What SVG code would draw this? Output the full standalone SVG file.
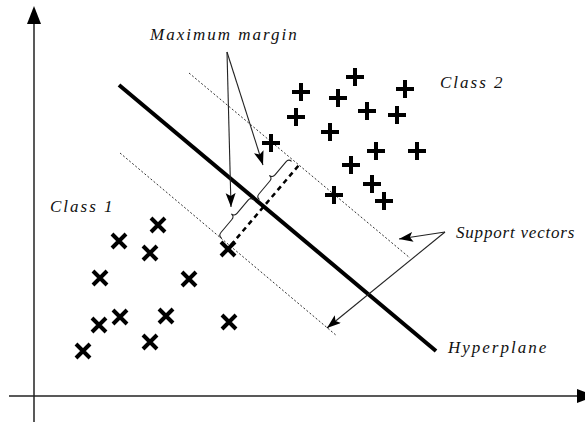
<svg xmlns="http://www.w3.org/2000/svg" width="585" height="424" viewBox="0 0 585 424">
<style>
.lbl{font-family:"Liberation Serif","Times New Roman",serif;font-style:italic;font-size:17px;letter-spacing:2px;fill:#111}
.axis{stroke:#222;stroke-width:1.5;fill:none}
.thin{stroke:#222;stroke-width:1.1;fill:none}
.dot{stroke:#333;stroke-width:1;stroke-dasharray:2,2;fill:none}
.mark{stroke:#000;stroke-width:4;fill:none}
</style>
<defs>
<marker id="ah" markerUnits="userSpaceOnUse" markerWidth="16" markerHeight="12" refX="14" refY="5" orient="auto">
<path d="M0,0 L14,5 L0,10 L3,5 Z" fill="#000"/>
</marker>
<g id="plus"><path class="mark" d="M-9,0H9M0,-9V9"/></g>
<g id="cross"><path class="mark" d="M-7,-7L7,7M-7,7L7,-7"/></g>
</defs>
<rect width="585" height="424" fill="#fff"/>
<g id="axes">
<line class="axis" x1="34" y1="22" x2="34" y2="422"/>
<polygon points="34,6 41,24 27,24" fill="#000"/>
<line class="axis" x1="9" y1="396" x2="580" y2="396"/>
<polygon points="595,396 577,389 577,403" fill="#000"/>
</g>
<g id="margins">
<line class="dot" x1="189" y1="73" x2="410" y2="258"/>
<line class="dot" x1="120" y1="153" x2="337" y2="336"/>
</g>
<g id="hyperplane">
<line x1="119" y1="85" x2="436" y2="351" stroke="#000" stroke-width="4"/>
</g>
<g id="margin-width">
<line x1="231" y1="245" x2="299" y2="165" stroke="#000" stroke-width="2.5" stroke-dasharray="5,4"/>
<path class="thin" transform="translate(237.5,219) rotate(-50)" d="M-25,0 Q-25,-4 -21,-4 L-4,-4 Q0,-4 0,-8 Q0,-4 4,-4 L21,-4 Q25,-4 25,0"/>
<path class="thin" transform="translate(275.5,180.5) rotate(-50)" d="M-25,0 Q-25,-4 -21,-4 L-4,-4 Q0,-4 0,-8 Q0,-4 4,-4 L21,-4 Q25,-4 25,0"/>
</g>
<g id="connectors">
<line class="thin" x1="227" y1="52" x2="231" y2="207" marker-end="url(#ah)"/>
<line class="thin" x1="227" y1="52" x2="263" y2="165" marker-end="url(#ah)"/>
<line class="thin" x1="445" y1="232" x2="399" y2="239" marker-end="url(#ah)"/>
<line class="thin" x1="445" y1="232" x2="327" y2="328" marker-end="url(#ah)"/>
</g>
<g id="class2-points">
<use href="#plus" x="355" y="77"/>
<use href="#plus" x="301" y="92"/>
<use href="#plus" x="338" y="98"/>
<use href="#plus" x="405" y="89"/>
<use href="#plus" x="296" y="117"/>
<use href="#plus" x="367" y="111"/>
<use href="#plus" x="397" y="115"/>
<use href="#plus" x="330" y="132"/>
<use href="#plus" x="271" y="143"/>
<use href="#plus" x="376" y="151"/>
<use href="#plus" x="417" y="151"/>
<use href="#plus" x="351" y="165"/>
<use href="#plus" x="372" y="184"/>
<use href="#plus" x="334" y="195"/>
<use href="#plus" x="384" y="201"/>
</g>
<g id="class1-points">
<use href="#cross" x="158" y="225"/>
<use href="#cross" x="119" y="241"/>
<use href="#cross" x="150" y="253"/>
<use href="#cross" x="228" y="249"/>
<use href="#cross" x="100" y="278"/>
<use href="#cross" x="189" y="279"/>
<use href="#cross" x="120" y="317"/>
<use href="#cross" x="166" y="316"/>
<use href="#cross" x="99" y="325"/>
<use href="#cross" x="229" y="322"/>
<use href="#cross" x="150" y="342"/>
<use href="#cross" x="83" y="351"/>
</g>
<g id="labels">
<text class="lbl" x="150" y="40">Maximum margin</text>
<text class="lbl" x="440" y="88">Class 2</text>
<text class="lbl" x="50" y="212">Class 1</text>
<text class="lbl" x="456" y="238" style="letter-spacing:0.8px">Support vectors</text>
<text class="lbl" x="448" y="353">Hyperplane</text>
</g>
</svg>
